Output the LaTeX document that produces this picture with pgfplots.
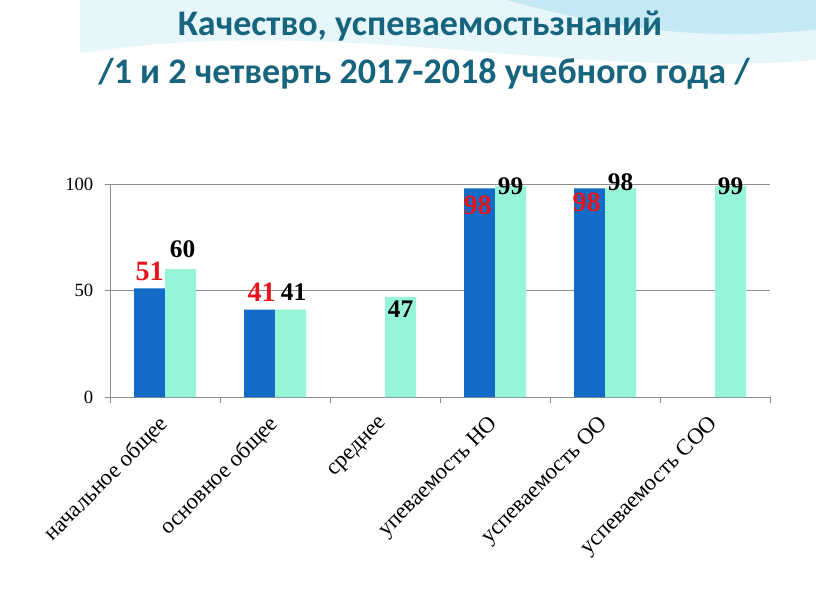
\documentclass[border=0pt]{standalone}
\usepackage{pgfplots}
\pgfplotsset{compat=1.18}
\usepackage{pgfplotstable}
\usepackage{fontspec}
\setmainfont{Liberation Serif}
\newfontfamily\titlefont{Carlito}

\definecolor{cblue}{RGB}{17,107,199}
\definecolor{cgreen}{RGB}{150,245,216}
\definecolor{cred}{RGB}{232,20,27}
\definecolor{ctitle}{RGB}{22,100,126}
\definecolor{caxis}{RGB}{140,140,140}
\definecolor{cwave}{RGB}{196,232,244}
\definecolor{cwavelight}{RGB}{230,246,251}

% x y dx dy  (dx, dy: label offset from bar top, in px)
\pgfplotstableread{
x y dx dy
0 51 0 17
1 41 2 17
3 98 -2 -17
4 98 -3 -14
}\quality
\pgfplotstableread{
x y dx dy
0 60 2 20
1 41 3 18
2 47 0 -12
3 99 0 0
4 98 0 6
5 99 0 0
}\progress

\begin{document}
\begin{tikzpicture}
\path[use as bounding box, fill=white] (0,0) rectangle (612pt,-459.75pt);

% light wave behind the title
\fill[cwavelight] (60pt,-40pt) .. controls (250pt,-10pt) and (420pt,-60pt) .. (612pt,-45pt)
  -- (612pt,0pt) -- (60pt,0pt) -- cycle;
\fill[cwave] (380pt,0pt) .. controls (470pt,-25pt) and (540pt,-30pt) .. (612pt,-22pt)
  -- (612pt,0pt) -- cycle;

\node[anchor=base, text=ctitle, font=\titlefont\bfseries\fontsize{27}{30}\selectfont]
  at (315pt,-27pt) {Качество, успеваемостьзнаний};
\node[anchor=base, text=ctitle, font=\titlefont\bfseries\fontsize{27}{30}\selectfont]
  at (318pt,-63pt) {/1 и 2 четверть 2017-2018 учебного года /};

\begin{axis}[
    at={(82.5pt,-297.75pt)}, anchor=south west,
    scale only axis,
    width=495pt, height=159.75pt,
    ybar=0pt, bar width=23.25pt,
    xmin=-0.5, xmax=5.5,
    ymin=0, ymax=100,
    axis x line=bottom, axis y line=left,
    axis line style={draw=caxis, -},
    xtick={0,...,5},
    xticklabels={начальное общее, основное общее, среднее,
                 упеваемость НО, успеваемость ОО, успеваемость СОО},
    minor xtick={-0.5,0.5,...,5.5},
    major x tick style={draw=none},
    minor tick length=4.5pt,
    major tick length=4pt,
    tick align=outside,
    tick style={draw=caxis},
    ytick={0,50,100},
    ymajorgrids, grid style={draw=caxis, line width=0.6pt},
    /pgf/number format/assume math mode=true,
    yticklabel style={font=\fontsize{14}{14}\selectfont, xshift=-5pt},
    xticklabel style={font=\fontsize{17}{17}\selectfont, rotate=45, anchor=east, xshift=-6.5pt, yshift=-10pt},
    every node near coord/.append style={anchor=center, font=\bfseries\fontsize{19}{19}\selectfont},
]
\addplot[fill=cblue, draw=none, nodes near coords,
    visualization depends on={\thisrow{dx}\as\dx},
    visualization depends on={\thisrow{dy}\as\dy},
    every node near coord/.append style={text=cred, font=\bfseries\fontsize{21}{21}\selectfont,
      xshift={\dx*0.75pt}, yshift={\dy*0.75pt}}]
    table[x=x, y=y] {\quality};
\addplot[fill=cgreen, draw=none, nodes near coords,
    visualization depends on={\thisrow{dx}\as\dx},
    visualization depends on={\thisrow{dy}\as\dy},
    every node near coord/.append style={text=black, xshift={\dx*0.75pt}, yshift={\dy*0.75pt}}]
    table[x=x, y=y] {\progress};
\end{axis}
\end{tikzpicture}
\end{document}
